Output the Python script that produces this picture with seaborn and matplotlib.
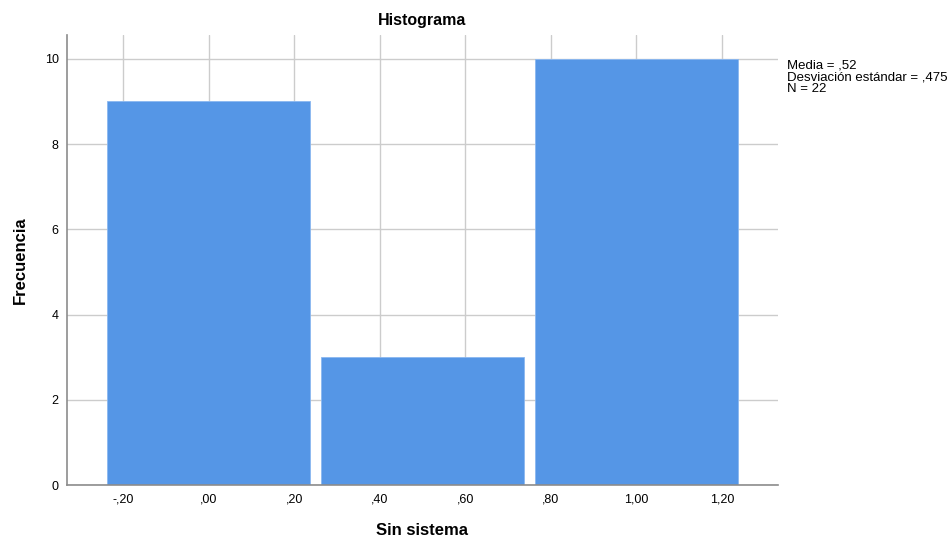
import numpy as np
import pandas as pd
import matplotlib.pyplot as plt
import seaborn as sns

valores = [0.0, 0.5, 1.0]
frecuencias = [9, 3, 10]
bordes = [-0.25, 0.25, 0.75, 1.25]
xticks = [-0.2, 0.0, 0.2, 0.4, 0.6, 0.8, 1.0, 1.2]
yticks = [0, 2, 4, 6, 8, 10]

datos = pd.DataFrame({'Sin sistema': np.repeat(valores, frecuencias)})

media = datos['Sin sistema'].mean()
desv = datos['Sin sistema'].std()
n = len(datos)


def spss_fmt(v, dec):
    s = f"{v:.{dec}f}".replace('.', ',')
    if s.startswith('0,'):
        s = s[1:]
    elif s.startswith('-0,'):
        s = '-' + s[2:]
    return s


sns.set_style('white')
plt.rcParams['font.family'] = ['Liberation Sans', 'DejaVu Sans']
plt.rcParams['text.color'] = 'black'
plt.rcParams['axes.labelcolor'] = 'black'
plt.rcParams['xtick.color'] = 'black'
plt.rcParams['ytick.color'] = 'black'

fig = plt.figure(figsize=(9.53, 5.37), dpi=100)
ax = fig.add_axes([67 / 953, 1 - 485 / 537, (778 - 67) / 953, (485 - 35) / 537])

sns.histplot(data=datos, x='Sin sistema', bins=bordes, shrink=0.95,
             color='#5596E6', alpha=1, edgecolor='#8BB8F0', linewidth=0.6, ax=ax)

ax.set_xlim(-0.331, 1.331)
ax.set_ylim(0, 10.56)
ax.set_xticks(xticks)
ax.set_xticklabels([spss_fmt(t, 2) for t in xticks], fontsize=9)
ax.set_yticks(yticks)
ax.set_yticklabels([str(t) for t in yticks], fontsize=9)
ax.tick_params(length=0, pad=6)

ax.set_axisbelow(True)
ax.grid(True, color='#CCCCCC', linewidth=1)

for lado in ['top', 'right']:
    ax.spines[lado].set_visible(False)
for lado in ['left', 'bottom']:
    ax.spines[lado].set_color('#8C8C8C')
    ax.spines[lado].set_linewidth(1.2)

ax.set_title('Histograma', fontsize=11.5, fontweight='bold', pad=7)
ax.set_xlabel('Sin sistema', fontsize=12, fontweight='bold', labelpad=13)
ax.set_ylabel('Frecuencia', fontsize=12, fontweight='bold', labelpad=12)

fig.text(787 / 953, 1 - 60 / 537,
         f"Media = {spss_fmt(media, 2)}\nDesviación estándar = {spss_fmt(desv, 3)}\nN = {n}",
         fontsize=9.5, va='top', ha='left', linespacing=0.95)

fig.savefig('out.png', dpi=100)
